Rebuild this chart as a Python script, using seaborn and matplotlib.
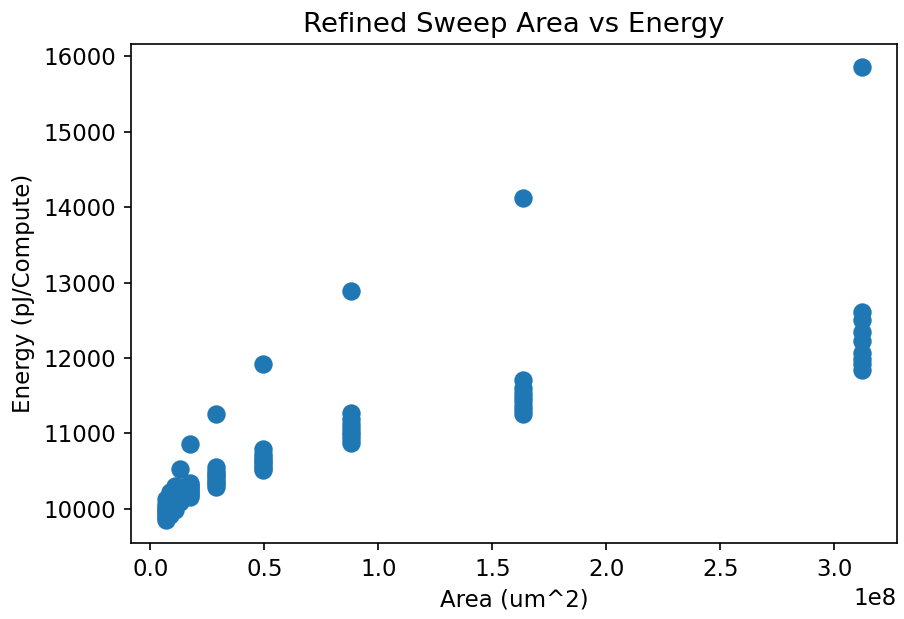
import numpy as np
import pandas as pd
import matplotlib
matplotlib.use("Agg")
import matplotlib.pyplot as plt
import seaborn as sns

# Area values (um^2) for each sweep column
area_levels = [0.068e8, 0.088e8, 0.108e8, 0.13e8, 0.174e8, 0.287e8, 0.496e8, 0.879e8, 1.635e8, 3.122e8]

# Energy values (pJ/Compute) for each column: clustered points + a top outlier
energy_c0 = [9849, 9880, 9910, 9940, 9970, 10000, 10030, 10060, 10130]
energy_c1 = [9920, 9955, 9990, 10025, 10060, 10095, 10130, 10165, 10230]
energy_c2 = [9990, 10025, 10060, 10095, 10130, 10165, 10200, 10235, 10300]
energy_c3 = [10097, 10125, 10155, 10185, 10215, 10245, 10270, 10295, 10535]
energy_c4 = [10163, 10188, 10213, 10238, 10263, 10288, 10313, 10340, 10858]
energy_c5 = [10292, 10325, 10360, 10395, 10430, 10465, 10500, 10558, 11262]
energy_c6 = [10513, 10548, 10583, 10618, 10653, 10688, 10723, 10788, 11916]
energy_c7 = [10877, 10925, 10975, 11025, 11075, 11125, 11190, 11265, 12885]
energy_c8 = [11256, 11313, 11370, 11428, 11485, 11542, 11600, 11713, 14121]
energy_c9 = [11840, 11920, 11990, 12060, 12220, 12350, 12500, 12614, 15861]

energy_cols = [energy_c0, energy_c1, energy_c2, energy_c3, energy_c4,
               energy_c5, energy_c6, energy_c7, energy_c8, energy_c9]

areas = []
energies = []
for a, col in zip(area_levels, energy_cols):
    for e in col:
        areas.append(a)
        energies.append(e)
df = pd.DataFrame({"Area": areas, "Energy": energies})

plt.rcParams["font.family"] = ["DejaVu Sans"]
plt.rcParams["font.size"] = 11

fig = plt.figure(figsize=(904 / 150, 619 / 150), dpi=150)
ax = fig.add_axes([131 / 904, 1 - 543 / 619, (897 - 131) / 904, (543 - 44) / 619])
sns.scatterplot(data=df, x="Area", y="Energy", ax=ax, s=78, color="#1f77b4",
                linewidth=0, legend=False)
ax.set_title("Refined Sweep Area vs Energy")
ax.set_xlabel("Area (um^2)")
ax.set_ylabel("Energy (pJ/Compute)")
fig.savefig("out.png", dpi=150)
